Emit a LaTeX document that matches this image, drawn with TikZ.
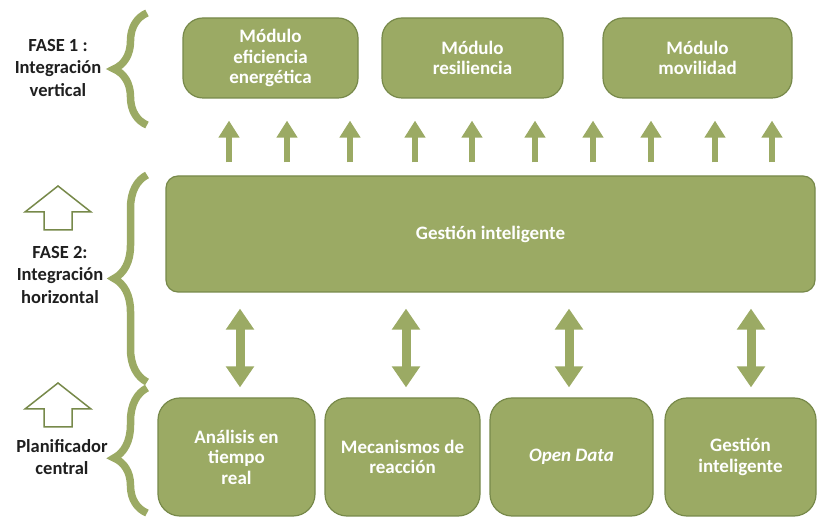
\documentclass[tikz,border=0pt]{standalone}
\usepackage{fontspec}
\setmainfont{Carlito}
\usetikzlibrary{arrows.meta,decorations.pathreplacing}
\definecolor{leaf}{HTML}{9BAA64}
\definecolor{leafdark}{HTML}{77894A}
\definecolor{ink}{HTML}{1F1F1F}
\tikzset{
  modbox/.style={draw=leafdark,fill=leaf,line width=1.2pt,rounded corners=20pt,align=center,inner sep=0pt,text=white,font=\fontsize{19}{20.5}\selectfont\bfseries},
  uparr/.style={-{Triangle[length=17pt,width=20pt]},line width=6.5pt,color=leaf},
  duoarr/.style={{Triangle[length=21pt,width=27pt]}-{Triangle[length=21pt,width=27pt]},line width=9pt,color=leaf},
  phasebrace/.style={decorate,decoration={brace,amplitude=33pt},line width=7.5pt,color=leaf},
  phaselabel/.style={align=center,text=ink,font=\fontsize{18.5}{22.5}\selectfont\bfseries},
  hollowarr/.style={draw=leafdark,line width=1.5pt,fill=white,line join=miter}
}
\begin{document}
\begin{tikzpicture}[x=1pt,y=-1pt]
  \useasboundingbox (0,0) rectangle (820,518);
  % fase 1: modulos
  \node[modbox,minimum width=175pt,minimum height=80pt] (modef) at (270.5,58) {Módulo\\eficiencia\\energética};
  \node[modbox,minimum width=181pt,minimum height=80pt] (modres) at (472.5,58) {Módulo\\resiliencia};
  \node[modbox,minimum width=189pt,minimum height=80pt] (modmov) at (697.5,58) {Módulo\\movilidad};
  % fase 2
  \node[modbox,rounded corners=12pt,minimum width=649pt,minimum height=116pt] (gest) at (490.5,234) {Gestión inteligente};
  % planificador central
  \node[modbox,rounded corners=22pt,minimum width=157pt,minimum height=118pt] (anal) at (236.5,457) {Análisis en\\tiempo\\real};
  \node[modbox,rounded corners=22pt,minimum width=155pt,minimum height=118pt] (meca) at (402.5,457) {Mecanismos de\\reacción};
  \node[modbox,rounded corners=22pt,minimum width=163pt,minimum height=118pt] (odata) at (571.5,457) {\itshape Open Data};
  \node[modbox,rounded corners=22pt,minimum width=151pt,minimum height=118pt] (gint) at (740.5,457) {Gestión\\inteligente};
  % flechas verticales
  \foreach \x in {229,287,350,415,472,535,593,651,715,772}
    \draw[uparr,shorten <=13pt,shorten >=22pt] (gest.north -| \x,0) -- (modef.south -| \x,0);
  \draw[duoarr,shorten <=16pt,shorten >=10pt] (gest.south -| 240,0) -- (anal.north -| 240,0);
  \draw[duoarr,shorten <=16pt,shorten >=10pt] (gest.south -| 406,0) -- (meca.north -| 406,0);
  \draw[duoarr,shorten <=16pt,shorten >=10pt] (gest.south -| 569,0) -- (odata.north -| 569,0);
  \draw[duoarr,shorten <=16pt,shorten >=10pt] (gest.south -| 751,0) -- (gint.north -| 751,0);
  % llaves
  \draw[phasebrace] (147,125) -- (147,13);
  \draw[phasebrace] (147,382) -- (147,175);
  \draw[phasebrace,decoration={aspect=0.44}] (147,513) -- (147,388);
  % etiquetas
  \node[phaselabel] (f1) at (58,68) {FASE 1 :\\Integración\\vertical};
  \node[phaselabel] (f2) at (60,275) {FASE 2:\\Integración\\horizontal};
  \node[phaselabel] (pc) at (62,457) {Planificador\\central};
  % flechas huecas
  \foreach \ty in {186,383}
    \draw[hollowarr] (58,\ty) -- (91,\ty+26) -- (72,\ty+26) -- (72,\ty+44)
      -- (44,\ty+44) -- (44,\ty+26) -- (25,\ty+26) -- cycle;
\end{tikzpicture}
\end{document}
